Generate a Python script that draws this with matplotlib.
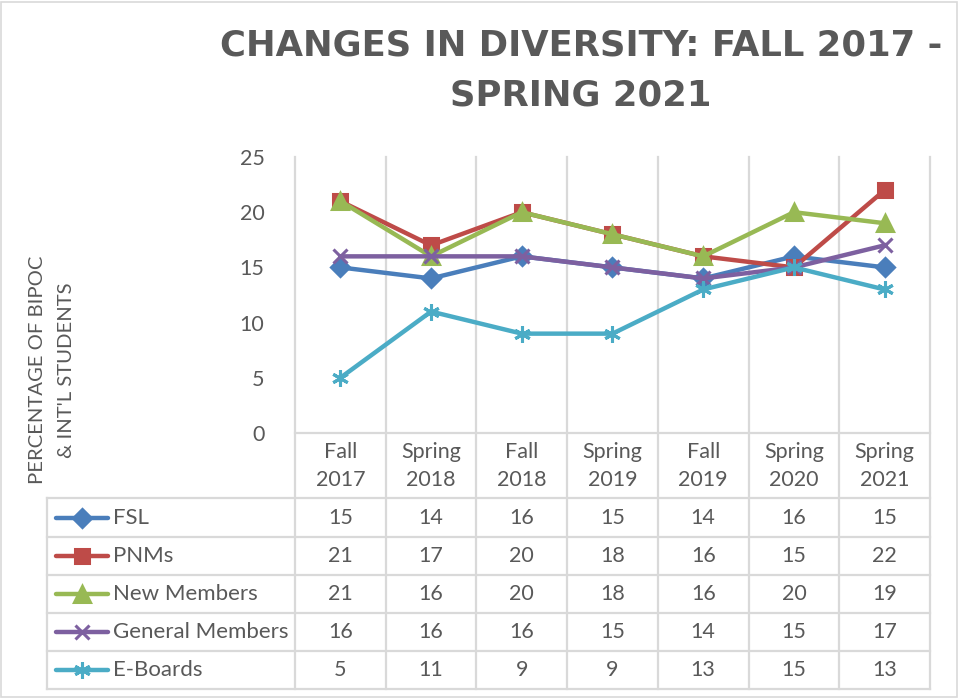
import matplotlib.pyplot as plt
import matplotlib.transforms as mtransforms
from matplotlib.patches import Rectangle

# data
terms = ["Fall\n2017", "Spring\n2018", "Fall\n2018", "Spring\n2019",
         "Fall\n2019", "Spring\n2020", "Spring\n2021"]
fsl = [15, 14, 16, 15, 14, 16, 15]
pnms = [21, 17, 20, 18, 16, 15, 22]
new_members = [21, 16, 20, 18, 16, 20, 19]
general_members = [16, 16, 16, 15, 14, 15, 17]
e_boards = [5, 11, 9, 9, 13, 15, 13]

series = [
    ("FSL", fsl, "#4A7EBB", "D", 9),
    ("PNMs", pnms, "#BE4B48", "s", 10),
    ("New Members", new_members, "#98B954", "^", 11),
    ("General Members", general_members, "#7D60A0", "x", 10),
    ("E-Boards", e_boards, "#4BACC6", (6, 2, 0), 12),
]

plt.rcParams['font.family'] = ['Lato', 'DejaVu Sans']
txt = "#595959"
grid = "#D9D9D9"
fs = 15.5

W, H = 962, 698
fig = plt.figure(figsize=(W / 100, H / 100), dpi=100)

# pixel overlay for the frame and table
pix = fig.add_axes([0, 0, 1, 1])
pix.set_xlim(0, W)
pix.set_ylim(H, 0)
pix.axis("off")

left, right, top, base = 295, 930, 157, 433
ax = fig.add_axes([left / W, (H - base) / H, (right - left) / W, (base - top) / H])
n = len(terms)
x = list(range(n))

for name, vals, col, mk, ms in series:
    ax.plot(x, vals, color=col, lw=3.2, marker=mk, ms=ms, mew=2.2,
            mec=col, mfc=col, clip_on=False, zorder=3)

ax.set_xlim(-0.5, n - 0.5)
ax.set_ylim(0, 25)
ax.set_yticks([0, 5, 10, 15, 20, 25])
ax.set_xticks([])
ax.tick_params(axis="y", length=0, pad=22, labelsize=fs, labelcolor=txt)
for s in ax.spines.values():
    s.set_visible(False)
ax.patch.set_alpha(0)

# column boundaries (data x, pixel y)
bt = mtransforms.blended_transform_factory(ax.transData, pix.transData)
table_bottom = 689
row_tops = [433, 498, 537, 575, 613, 651]
for i in range(n + 1):
    pix.plot([i - 0.5, i - 0.5], [top, table_bottom], color=grid, lw=1.6,
             transform=bt, clip_on=False, zorder=1)

# horizontal rules
pix.plot([left, right], [base, base], color=grid, lw=1.6, zorder=1)
for y in row_tops[1:] + [table_bottom]:
    pix.plot([47, right], [y, y], color=grid, lw=1.6, zorder=1)
pix.plot([47, 47], [row_tops[1], table_bottom], color=grid, lw=1.6, zorder=1)

# category header
for i, t in enumerate(terms):
    pix.text(i, 466, t, transform=bt, ha="center", va="center",
             fontsize=fs, color=txt, linespacing=1.55)

# table rows
for r, (name, vals, col, mk, ms) in enumerate(series):
    yc = (row_tops[r + 1] + (row_tops[r + 2] if r + 2 < len(row_tops) else table_bottom)) / 2
    pix.plot([56, 108], [yc, yc], color=col, lw=3.2, solid_capstyle="round", zorder=3)
    pix.plot([82], [yc], marker=mk, ms=ms, mew=2.2, color=col, zorder=4)
    pix.text(113, yc, name, ha="left", va="center", fontsize=16, color=txt)
    for i, v in enumerate(vals):
        pix.text(i, yc, str(v), transform=bt, ha="center", va="center",
                 fontsize=fs, color=txt)

# y label
fig.text(52 / W, 1 - 370 / H, "PERCENTAGE OF BIPOC\n& INT'L STUDENTS", rotation=90,
         ha="center", va="center", multialignment="center",
         fontsize=14.6, color=txt, linespacing=1.9)

# title
title_kw = dict(ha="center", va="center", fontsize=25.5, fontweight="bold", color=txt,
                family=["DejaVu Sans"])
fig.text(581 / W, 1 - 45 / H, "CHANGES IN DIVERSITY: FALL 2017 -", **title_kw)
fig.text(581 / W, 1 - 95 / H, "SPRING 2021", **title_kw)

# chart frame
pix.add_patch(Rectangle((1.5, 1.5), 956, 695, fill=False, ec="#D9D9D9", lw=1.2))

fig.savefig("out.png", dpi=100)
